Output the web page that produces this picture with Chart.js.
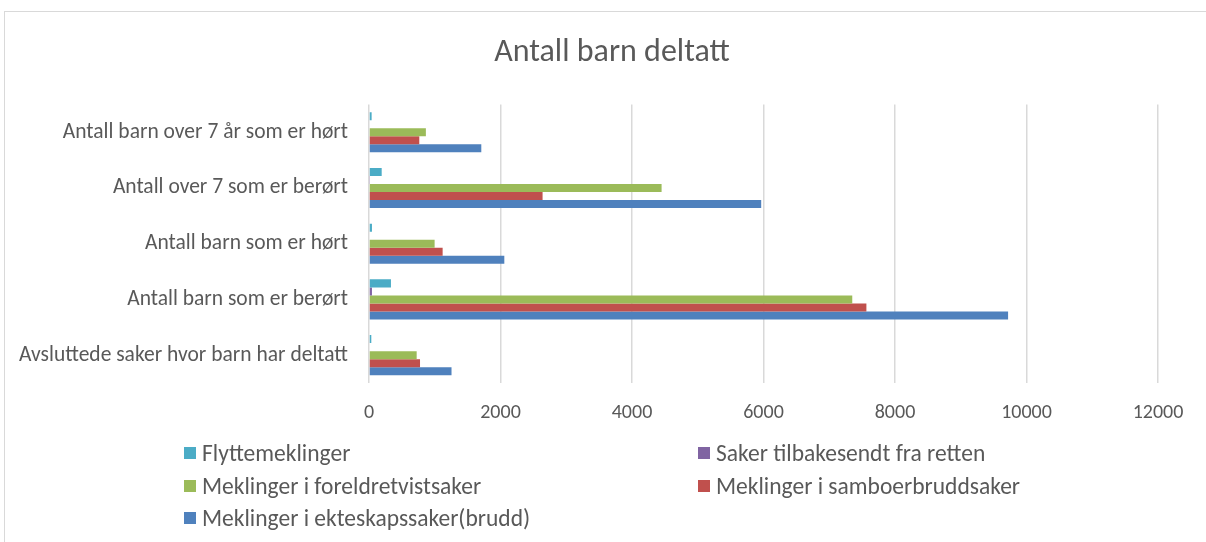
<!DOCTYPE html>
<html>
<head>
<meta charset="utf-8">
<script src="https://cdn.jsdelivr.net/npm/chart.js@4"></script>
<style>
    html, body { margin: 0; padding: 0; background: #fff; }
    #wrap { position: relative; width: 1206px; height: 542px; overflow: hidden; }
    #frame { position: absolute; left: 4px; top: 11px; width: 1300px; height: 600px;
             border-top: 1px solid #d9d9d9; border-left: 1px solid #d9d9d9; }
    #chart { position: absolute; left: 0; top: 0; }
    .legend-item { position: absolute; display: flex; align-items: center; height: 30px;
                   font-family: Carlito, Lato, sans-serif; font-size: 23.5px; color: #595959; white-space: nowrap; }
    .legend-box { width: 12px; height: 12px; margin-right: 6px; }
</style>
</head>
<body>
<div id="wrap">
    <div id="frame"></div>
    <canvas id="chart" width="1206" height="542"></canvas>
    <div id="legend"></div>
</div>
<script>
const categories = [
    'Antall barn over 7 år som er hørt',
    'Antall over 7 som er berørt',
    'Antall barn som er hørt',
    'Antall barn som er berørt',
    'Avsluttede saker hvor barn har deltatt'
];
const flyttemeklinger = [40, 193, 45, 334, 35];
const sakerTilbakesendt = [0, 15, 0, 45, 0];
const foreldretvist = [865, 4450, 998, 7350, 725];
const samboerbrudd = [765, 2640, 1120, 7565, 776];
const ekteskap = [1708, 5965, 2058, 9720, 1255];
const xTicks = [0, 2000, 4000, 6000, 8000, 10000, 12000];

const seriesNames = [
    'Flyttemeklinger',
    'Saker tilbakesendt fra retten',
    'Meklinger i foreldretvistsaker',
    'Meklinger i samboerbruddsaker',
    'Meklinger i ekteskapssaker(brudd)'
];
const seriesData = [flyttemeklinger, sakerTilbakesendt, foreldretvist, samboerbrudd, ekteskap];
const seriesColors = ['#4bacc6', '#8064a2', '#9bbb59', '#c0504d', '#4f81bd'];

const fontFamily = 'Carlito, Lato, sans-serif';
const textColor = '#595959';

const ctx = document.getElementById('chart').getContext('2d');
const chart = new Chart(ctx, {
    type: 'bar',
    data: {
        labels: categories,
        datasets: seriesData.map((d, i) => ({
            label: seriesNames[i],
            data: d,
            backgroundColor: seriesColors[i],
            borderWidth: 0,
            barPercentage: 1,
            categoryPercentage: 0.72
        }))
    },
    options: {
        indexAxis: 'y',
        responsive: false,
        animation: false,
        // left padding keeps the title centred on the frame
        layout: { padding: { left: 18, right: 0, top: 0, bottom: 0 } },
        plugins: {
            legend: { display: false },
            tooltip: { enabled: false },
            title: {
                display: true,
                text: 'Antall barn deltatt',
                color: textColor,
                font: { family: fontFamily, size: 32, weight: 'normal' },
                padding: { top: 34, bottom: 32 }
            }
        },
        scales: {
            x: {
                min: 0,
                max: 12000,
                afterBuildTicks: (scale) => { scale.ticks = xTicks.map(v => ({ value: v })); },
                afterFit: (scale) => { scale.height = 159; scale.paddingRight = 48; },
                ticks: {
                    color: textColor,
                    font: { family: fontFamily, size: 20 },
                    padding: 18,
                    maxRotation: 0,
                    callback: (v) => String(v)
                },
                grid: { color: '#d9d9d9', lineWidth: 1.5, drawTicks: false },
                border: { display: false }
            },
            y: {
                afterFit: (scale) => { scale.width = 351; },
                ticks: {
                    color: textColor,
                    font: { family: fontFamily, size: 21.5 },
                    padding: 21
                },
                grid: { display: false, drawTicks: false },
                border: { display: false }
            }
        }
    }
});

// legend in two columns, built from the datasets
const legendPos = [
    [184, 453], [698, 453],
    [184, 486], [698, 486],
    [184, 518]
];
const legendEl = document.getElementById('legend');
chart.data.datasets.forEach((ds, i) => {
    const item = document.createElement('div');
    item.className = 'legend-item';
    item.style.left = legendPos[i][0] + 'px';
    item.style.top = (legendPos[i][1] - 15) + 'px';
    const box = document.createElement('span');
    box.className = 'legend-box';
    box.style.background = ds.backgroundColor;
    const txt = document.createElement('span');
    txt.textContent = ds.label;
    item.appendChild(box);
    item.appendChild(txt);
    legendEl.appendChild(item);
});
</script>
</body>
</html>
